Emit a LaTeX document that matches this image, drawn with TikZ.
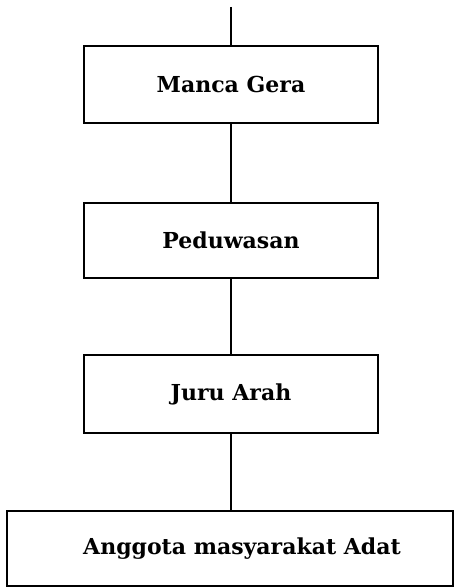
\documentclass[tikz,border=0pt]{standalone}
\usepackage{fontspec}
\setmainfont{DejaVu Serif}
\begin{document}
\begin{tikzpicture}[x=1pt,y=-1pt,
  rank/.style={draw, line width=2.6pt, minimum height=77pt, inner sep=0pt,
    font=\fontsize{22}{26}\selectfont\bfseries},
  link/.style={line width=2.6pt}]
\useasboundingbox (0,0) rectangle (454,588);
\node[rank, minimum width=294pt] (manca) at (231,84.5) {Manca Gera};
\node[rank, minimum width=294pt, minimum height=75pt] (peduwasan) at (231,240.5) {Peduwasan};
\node[rank, minimum width=294pt, minimum height=78pt] (juru) at (231,394) {Juru Arah};
% the bottom label sits a little right of the box centre
\node[rank, minimum width=446pt, minimum height=75pt] (anggota) at (230,548.5)
  {\hspace*{24pt}Anggota masyarakat Adat};
\coordinate (top) at (231,7);
\draw[link] (top) -- (manca.north);
\draw[link] (manca.south) -- (peduwasan.north);
\draw[link] (peduwasan.south) -- (juru.north);
\draw[link] (juru.south) -- (juru.south |- anggota.north);
\end{tikzpicture}
\end{document}
